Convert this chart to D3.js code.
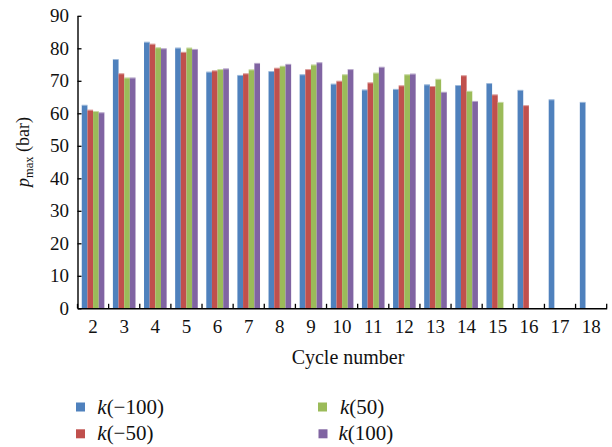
<!DOCTYPE html>
<html>
<head>
<meta charset="utf-8">
<script src="https://cdn.jsdelivr.net/npm/d3@7"></script>
<style>
  html, body { margin: 0; padding: 0; background: #fff; }
  svg { display: block; font-family: "Liberation Serif", "DejaVu Serif", serif; }
</style>
</head>
<body>
<svg id="chart" width="612" height="447"></svg>
<script>
const categories = ["2","3","4","5","6","7","8","9","10","11","12","13","14","15","16","17","18"];
const seriesNames = ["k(−100)", "k(−50)", "k(50)", "k(100)"];
const kMinus100 = [62.6, 76.7, 82.0, 80.2, 72.8, 71.8, 73.0, 72.0, 69.1, 67.3, 67.5, 68.9, 68.7, 69.3, 67.2, 64.3, 63.5];
const kMinus50  = [61.1, 72.3, 81.4, 78.9, 73.2, 72.3, 74.0, 73.6, 70.0, 69.5, 68.6, 68.4, 71.7, 65.8, 62.5, null, null];
const k50       = [60.7, 71.0, 80.3, 80.2, 73.6, 73.5, 74.6, 75.0, 72.0, 72.5, 72.0, 70.6, 66.9, 63.5, null, null, null];
const k100      = [60.3, 71.0, 80.0, 79.8, 73.8, 75.5, 75.2, 75.7, 73.6, 74.3, 72.2, 66.6, 63.8, null, null, null, null];
const yTicks = [0, 10, 20, 30, 40, 50, 60, 70, 80, 90];
const colors = ["#4F81BD", "#C0504D", "#9BBB59", "#8064A2"];
const seriesValues = [kMinus100, kMinus50, k50, k100];

const svg = d3.select("#chart");
const x0 = 77.5, x1 = 606.7, yBottom = 308.3, yTop = 15.8;

const x = d3.scaleBand().domain(categories).range([x0, x1]).paddingInner(0.274).paddingOuter(0.137);
const xs = d3.scaleBand().domain(d3.range(seriesNames.length)).range([0, x.bandwidth()]).padding(0);
const y = d3.scaleLinear().domain([0, 90]).range([yBottom, yTop]);

// bars
seriesValues.forEach((vals, si) => {
  const data = categories.map((c, i) => ({c, v: vals[i]})).filter(d => d.v !== null);
  svg.append("g").selectAll("rect")
    .data(data)
    .join("rect")
    .attr("x", d => x(d.c) + xs(si))
    .attr("y", d => y(d.v))
    .attr("width", xs.bandwidth())
    .attr("height", d => y(0) - y(d.v))
    .attr("fill", colors[si]);
  svg.append("g").selectAll("line")
    .data(data)
    .join("line")
    .attr("x1", d => x(d.c) + xs(si))
    .attr("x2", d => x(d.c) + xs(si) + xs.bandwidth())
    .attr("y1", d => y(d.v) + 0.5)
    .attr("y2", d => y(d.v) + 0.5)
    .attr("stroke", "#fff").attr("stroke-opacity", 0.45).attr("stroke-width", 1);
});

// y axis
const yAxis = d3.axisLeft(y).tickValues(yTicks).tickSize(-4).tickPadding(8.5).tickSizeOuter(0);
const gy = svg.append("g").attr("transform", `translate(${x0},0)`).call(yAxis);
gy.select(".domain").attr("stroke", "#000").attr("stroke-width", 1.4);
gy.selectAll(".tick line").attr("stroke", "#000").attr("stroke-width", 1.3);
gy.selectAll(".tick text").attr("font-size", 19).attr("font-family", "Liberation Serif").attr("fill", "#111");

// x axis
const xAxis = d3.axisBottom(x).tickSize(0).tickPadding(11).tickSizeOuter(0);
const gx = svg.append("g").attr("transform", `translate(0,${yBottom})`).call(xAxis);
gx.select(".domain").attr("stroke", "#000").attr("stroke-width", 1.4);
gx.selectAll(".tick text").attr("font-size", 19).attr("font-family", "Liberation Serif").attr("fill", "#111");
// category separator ticks (inward)
const step = x.step();
const sepPositions = d3.range(categories.length + 1).map(i => x0 + i * step);
svg.append("g").selectAll("line").data(sepPositions).join("line")
  .attr("x1", d => d).attr("x2", d => d)
  .attr("y1", yBottom).attr("y2", yBottom - 4.5)
  .attr("stroke", "#000").attr("stroke-width", 1.3);

// axis titles
svg.append("text").attr("x", 348).attr("y", 364).attr("text-anchor", "middle")
  .attr("font-size", 20).attr("fill", "#111").text("Cycle number");

const yt = svg.append("text").attr("transform", "translate(29,152) rotate(-90)")
  .attr("text-anchor", "middle").attr("font-size", 18).attr("fill", "#111");
yt.append("tspan").attr("font-style", "italic").text("p");
yt.append("tspan").attr("font-size", 12.5).attr("dy", 4).text("max");
yt.append("tspan").attr("dy", -4).text(" (bar)");

// legend
const legendPos = [[76, 402.5], [76, 429.3], [318, 402.5], [318.5, 429.3]];
const textX = [97.3, 97.3, 340, 338.5];
const leg = svg.append("g");
seriesNames.forEach((name, i) => {
  const [lx, ly] = legendPos[i];
  leg.append("rect").attr("x", lx).attr("y", ly).attr("width", 9).attr("height", 9).attr("fill", colors[i]);
  const t = leg.append("text").attr("x", textX[i]).attr("y", ly + 11).attr("font-size", 21).attr("fill", "#111");
  const m = name.match(/^k\((.*)\)$/);
  t.append("tspan").attr("font-style", "italic").text("k");
  t.append("tspan").text("(" + m[1] + ")");
});
</script>
</body>
</html>
